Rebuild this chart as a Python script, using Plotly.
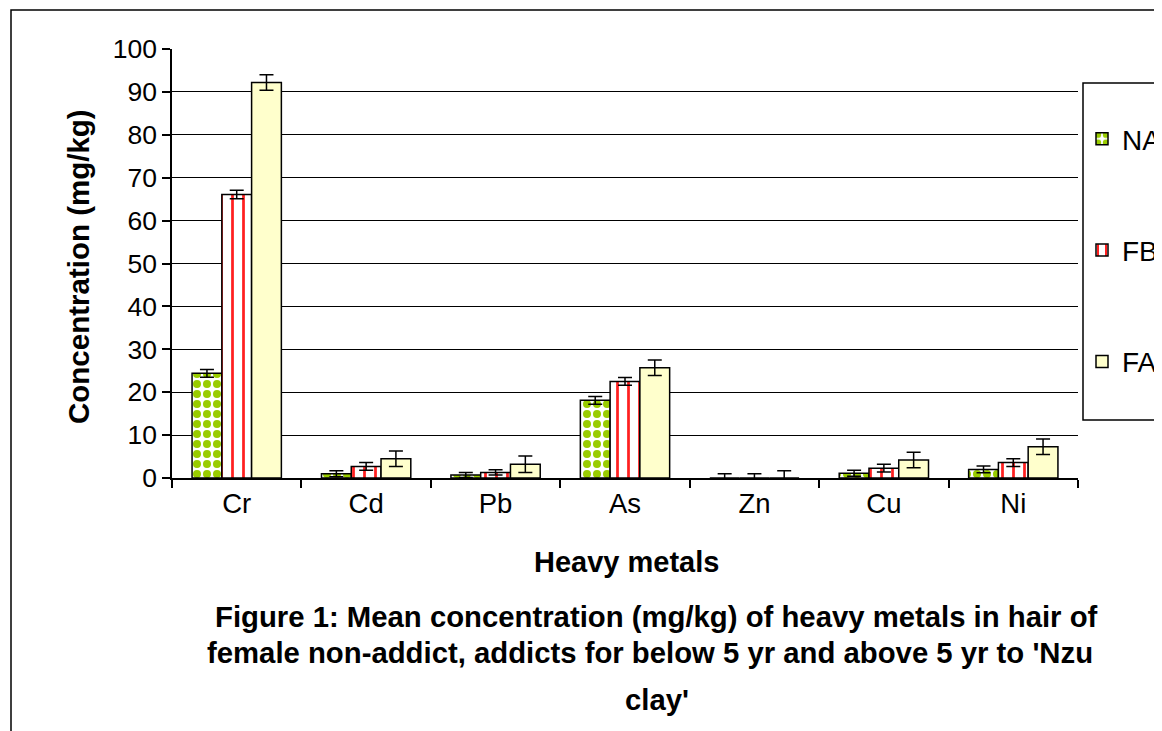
import plotly.graph_objects as go

metals = ["Cr", "Cd", "Pb", "As", "Zn", "Cu", "Ni"]
na_vals = [24.4, 1.0, 0.7, 18.1, 0.0, 1.1, 2.0]
na_err = [0.9, 0.7, 0.6, 0.9, 1.0, 0.7, 0.8]
fb_vals = [66.1, 2.7, 1.3, 22.5, 0.0, 2.3, 3.6]
fb_err = [1.0, 0.9, 0.6, 0.9, 1.0, 0.9, 0.9]
fa_vals = [92.2, 4.5, 3.2, 25.7, 0.0, 4.2, 7.3]
fa_err = [1.8, 1.8, 1.9, 1.8, 1.7, 1.8, 1.8]
y_ticks = list(range(0, 101, 10))

FONT = "Arial, Liberation Sans, sans-serif"
# the page body adds an 8px offset, so the figure is laid out 8px up/left
W, H = 1154, 723
L, R, T, B = 164, 1070, 41, 470  # plot area pixels (figure coords)


def px(x):
    return (x - L) / (R - L)


def py(y):
    return (B - y) / (B - T)


err_style = dict(type="data", color="black", thickness=1.5, width=7, visible=True)

fig = go.Figure()
fig.add_trace(go.Bar(
    name="NA", x=metals, y=na_vals, legendgroup="NA",
    error_y=dict(array=na_err, **err_style),
    marker=dict(color="white", line=dict(color="black", width=1.5),
                pattern=dict(shape=".", fgcolor="#99CC00", bgcolor="white",
                             size=10, solidity=0.5, fillmode="replace")),
))
fig.add_trace(go.Bar(
    name="FB", x=metals, y=fb_vals, legendgroup="FB",
    error_y=dict(array=fb_err, **err_style),
    marker=dict(color="white", line=dict(color="black", width=1.5),
                pattern=dict(shape="|", fgcolor="#FF2020", bgcolor="white",
                             size=11, solidity=0.25, fillmode="replace")),
))
fig.add_trace(go.Bar(
    name="FA", x=metals, y=fa_vals, legendgroup="FA",
    error_y=dict(array=fa_err, **err_style),
    marker=dict(color="#FFFFCC", line=dict(color="black", width=1.5)),
))

cap_font = dict(size=29.3, family=FONT)

fig.update_layout(
    width=W, height=H,
    margin=dict(l=L, r=W - R, t=T, b=H - B, autoexpand=False),
    paper_bgcolor="white", plot_bgcolor="white",
    barmode="group", bargap=0.31, bargroupgap=0,
    font=dict(family=FONT, color="black", size=26),
    showlegend=True,
    legend=dict(x=px(1074), y=py(106), xanchor="left", yanchor="top",
                font=dict(size=28, family=FONT), tracegroupgap=72,
                traceorder="grouped", bgcolor="rgba(0,0,0,0)", borderwidth=0),
    xaxis=dict(type="category", showline=True, linecolor="black", linewidth=1.5,
               ticks="outside", ticklen=8, tickcolor="black", tickwidth=1.5,
               tickson="boundaries", showgrid=False,
               tickfont=dict(size=27.5, family=FONT)),
    yaxis=dict(range=[0, 100], tickvals=y_ticks, showline=True, linecolor="black",
               linewidth=1.5, ticks="outside", ticklen=8, tickcolor="black",
               tickwidth=1.5, showgrid=True, gridcolor="black", gridwidth=1.2,
               zeroline=False, tickfont=dict(size=26.5, family=FONT)),
    shapes=[
        dict(type="rect", xref="paper", yref="paper", x0=px(3), x1=px(1200),
             y0=py(800), y1=py(2), line=dict(color="black", width=1.5), layer="below"),
        dict(type="rect", xref="paper", yref="paper", x0=px(1075), x1=px(1200),
             y0=py(412), y1=py(75), line=dict(color="black", width=1.5)),
    ],
    annotations=[
        dict(text="<b>Concentration (mg/kg)</b>", xref="paper", yref="paper",
             x=px(70), y=py(259), textangle=-90, showarrow=False,
             xanchor="center", yanchor="middle", font=dict(size=29.5, family=FONT)),
        dict(text="<b>Heavy metals</b>", xref="paper", yref="paper",
             x=px(618), y=py(554), showarrow=False,
             xanchor="center", yanchor="middle", font=dict(size=29, family=FONT)),
        dict(text="<b>Figure 1: Mean concentration (mg/kg) of heavy metals in hair of</b>",
             xref="paper", yref="paper", x=px(648), y=py(608), showarrow=False,
             xanchor="center", yanchor="middle", font=cap_font),
        dict(text="<b>female non-addict, addicts for below 5 yr and above 5 yr to 'Nzu</b>",
             xref="paper", yref="paper", x=px(642), y=py(644), showarrow=False,
             xanchor="center", yanchor="middle", font=cap_font),
        dict(text="<b>clay'</b>",
             xref="paper", yref="paper", x=px(649), y=py(691), showarrow=False,
             xanchor="center", yanchor="middle", font=cap_font),
    ],
)

fig.write_html("out.html")
